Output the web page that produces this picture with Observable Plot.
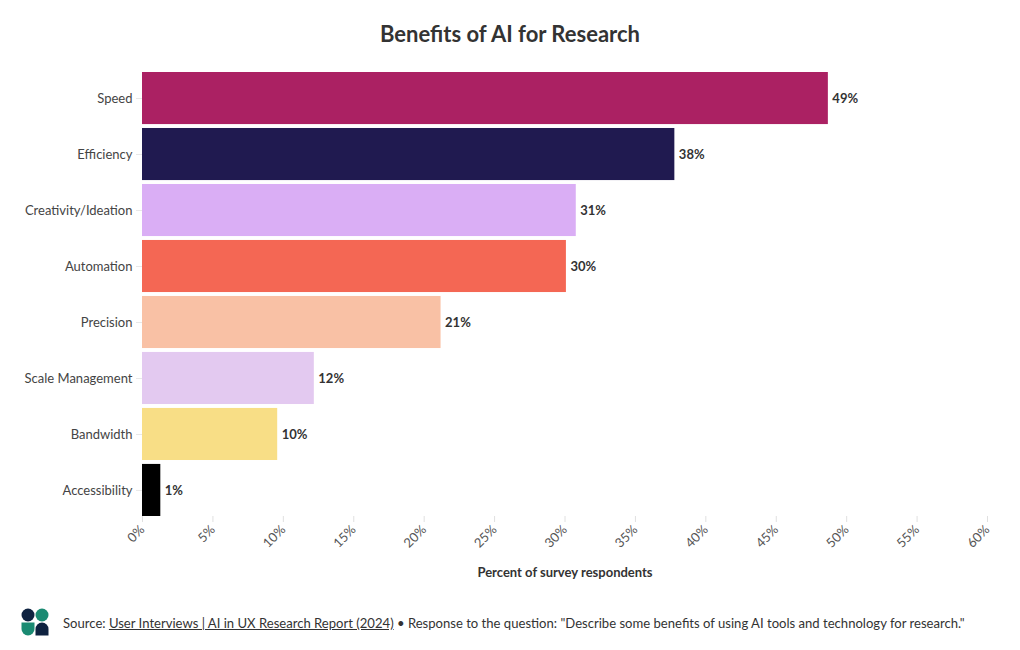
<!DOCTYPE html>
<html>
<head>
<meta charset="utf-8">
<script src="https://cdn.jsdelivr.net/npm/d3@7"></script>
<script src="https://cdn.jsdelivr.net/npm/@observablehq/plot@0.6"></script>
<style>
  body { margin: 0; background: #fff; font-family: "Lato", "Noto Sans", sans-serif; color: #333; }
  #wrap { width: 1020px; height: 650px; position: relative; overflow: hidden; }
  #title { height: 60px; line-height: 68px; text-align: center; font-size: 22px; font-weight: 700; color: #333; }
  #chart svg { display: block; }
  #footer { position: absolute; left: 0; top: 600px; width: 1020px; height: 50px; }
  #footer svg.logo { position: absolute; left: 21px; top: 8px; }
  #footer .txt { position: absolute; left: 63px; top: 14px; font-size: 14px; color: #333; white-space: nowrap; }
  #footer .txt u { text-decoration: underline; }
</style>
</head>
<body>
<div id="wrap">
  <div id="title">Benefits of AI for Research</div>
  <div id="chart"></div>
  <div id="footer">
    <svg class="logo" width="28" height="28" viewBox="0 0 28 28">
      <circle cx="7" cy="7" r="6.5" fill="#0E2240"/>
      <circle cx="21" cy="7" r="6.5" fill="#1A8A72"/>
      <path d="M0.5,14.5 H13.5 V21 A6.5,6.5 0 0 1 0.5,21 Z" fill="#1A8A72"/>
      <path d="M14.5,27.5 V21 A6.5,6.5 0 0 1 27.5,21 V27.5 Z" fill="#0E2240"/>
    </svg>
    <div class="txt" id="src">Source: <u>User Interviews | AI in UX Research Report (2024)</u> • Response to the question: "Describe some benefits of using AI tools and technology for research."</div>
  </div>
</div>
<script>
const categories = ["Speed", "Efficiency", "Creativity/Ideation", "Automation", "Precision", "Scale Management", "Bandwidth", "Accessibility"];
const values = [48.7, 37.8, 30.8, 30.1, 21.2, 12.2, 9.6, 1.3];
const labels = ["49%", "38%", "31%", "30%", "21%", "12%", "10%", "1%"];
const colors = ["#AB2163", "#201A50", "#DAAEF5", "#F46754", "#F9C1A5", "#E3C9F0", "#F8DE86", "#000000"];
const xTicks = [0, 5, 10, 15, 20, 25, 30, 35, 40, 45, 50, 55, 60];

const data = categories.map((c, i) => ({category: c, value: values[i], label: labels[i], color: colors[i]}));

const chart = Plot.plot({
  width: 1020,
  height: 540,
  marginTop: 12,
  marginBottom: 84,
  marginLeft: 142,
  marginRight: 33,
  style: {fontFamily: "Lato, 'Noto Sans', sans-serif", fontSize: "13px", color: "#444", background: "#fff"},
  x: {domain: [0, 60], ticks: xTicks, tickFormat: d => d + "%", label: null},
  y: {domain: categories, paddingInner: 0.07, paddingOuter: 0, round: false, label: null},
  marks: [
    Plot.barX(data, {x: "value", y: "category", fill: "color"}),
    Plot.text(data, {x: "value", y: "category", text: "label", textAnchor: "start", dx: 4, fontWeight: 700, fill: "#333", fontSize: 13}),
    Plot.axisX({ticks: xTicks, tickFormat: d => d + "%", tickRotate: -45, tickSize: 6, stroke: "#e0e0e0", fill: "#555", fontSize: 13, label: null, tickPadding: 5}),
    Plot.ruleY([0], {frameAnchor: "bottom", stroke: "#e6e6e6", dy: 1}),
    Plot.axisY({tickSize: 6, stroke: "#e8e8e8", fill: "#444", fontSize: 13, label: null, tickPadding: 4}),
    Plot.text(["Percent of survey respondents"], {frameAnchor: "bottom", dy: 60, fontWeight: 700, fill: "#333", fontSize: 13})
  ]
});
document.getElementById("chart").appendChild(chart);

// fit footer text width to the reference span (x 63 → 965)
const src = document.getElementById("src");
const target = 902;
let fs = 14;
src.style.fontSize = fs + "px";
const w = src.getBoundingClientRect().width;
if (w > target) {
  fs = 14 * target / w;
  src.style.fontSize = fs.toFixed(2) + "px";
  src.style.top = (14 + (14 - fs) / 2).toFixed(1) + "px";
}
</script>
</body>
</html>
